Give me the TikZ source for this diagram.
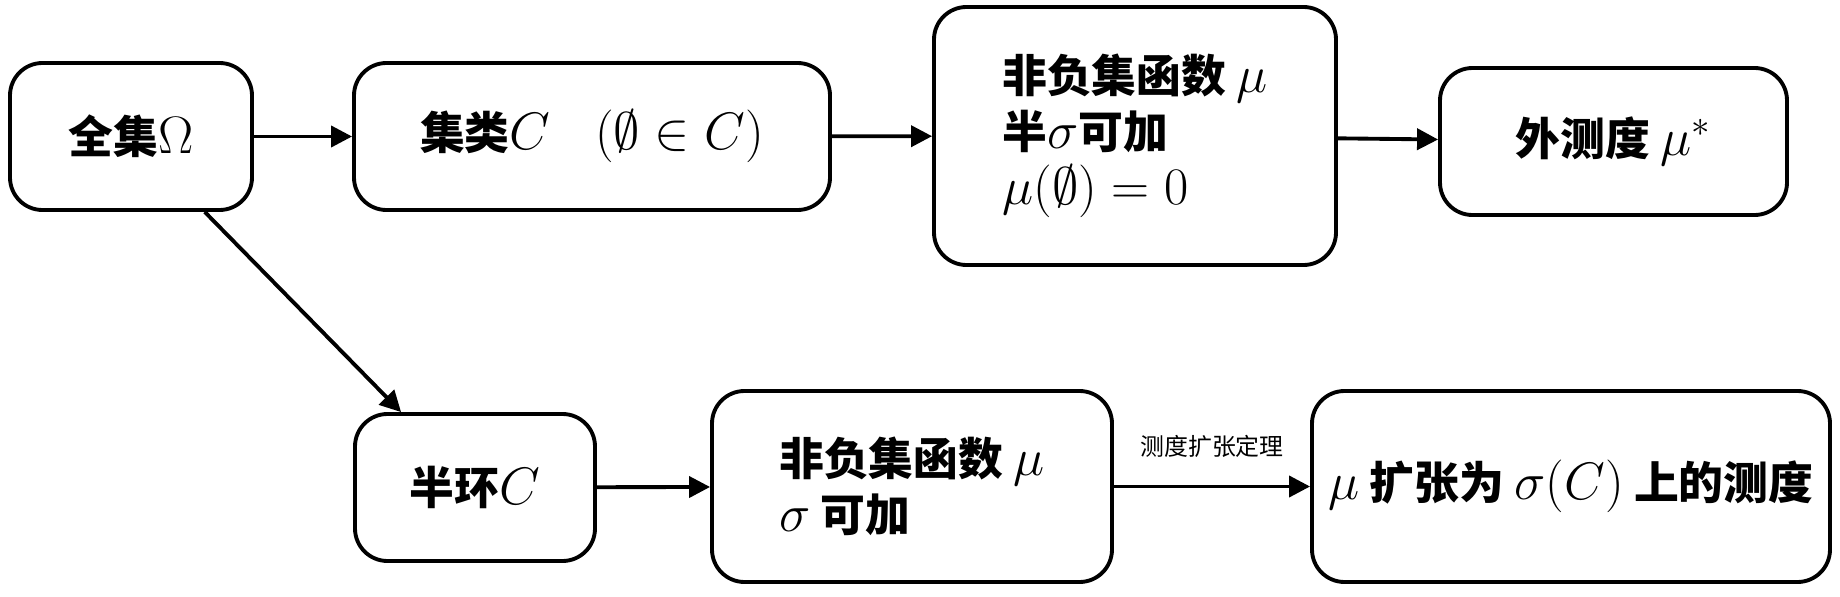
\RequirePackage{fix-cm}
\documentclass[tikz,border=0pt]{standalone}
\usepackage{amsmath}
\usepackage{fontspec}
\newfontfamily\hei{Noto Sans CJK SC}[Scale=0.85]
\usetikzlibrary{arrows.meta}

\begin{document}
\begin{tikzpicture}[
    box/.style={draw,line width=2.2pt,rounded corners=0.65cm,align=left,inner sep=0pt,
        font=\hei\bfseries\fontsize{30}{32}\selectfont},
    arr/.style={line width=2.2pt,-{Triangle[length=0.42cm,width=0.42cm]}},
    lbl/.style={above=0.42cm,font=\hei\fontsize{16}{20}\selectfont}]
            \useasboundingbox (0,0) rectangle (36.8,-11.92);
            % Top row
            \node[box,minimum width=4.84cm,minimum height=2.94cm] (omega) at (2.62,-2.73) {全集$\Omega$};
            \node[box,minimum width=9.52cm,minimum height=2.94cm] (class) at (11.84,-2.73) {集类$C\quad(\emptyset\in C)$};
            \node[box,minimum width=8.04cm,minimum height=5.16cm] (premu) at (22.70,-2.72) {非负集函数 $\mu$\\半$\sigma$可加\\$\mu(\emptyset)=0$};
            \node[box,minimum width=6.94cm,minimum height=2.94cm] (outer) at (32.27,-2.83) {外测度 $\mu^*$};
            % Bottom row
            \node[box,minimum width=4.80cm,minimum height=2.94cm] (semiring) at (9.50,-9.75) {半环$C$};
            \node[box,minimum width=8.00cm,minimum height=3.82cm] (mu) at (18.24,-9.73) {非负集函数 $\mu$\\$\sigma$ 可加};
            \node[box,minimum width=10.36cm,minimum height=3.82cm] (ext) at (31.42,-9.73) {$\mu$ 扩张为 $\sigma(C)$ 上的测度};
            % Arrows
            \draw[arr] (omega) -- (class);
            \draw[arr] (class) -- (premu);
            \draw[arr] (premu) -- (outer);
            \draw[arr] (omega) -- (semiring);
            \draw[arr] (semiring) -- (mu);
            \draw[arr] (mu) -- node[lbl] (thm) {测度扩张定理} (ext);
        \end{tikzpicture}
\end{document}
